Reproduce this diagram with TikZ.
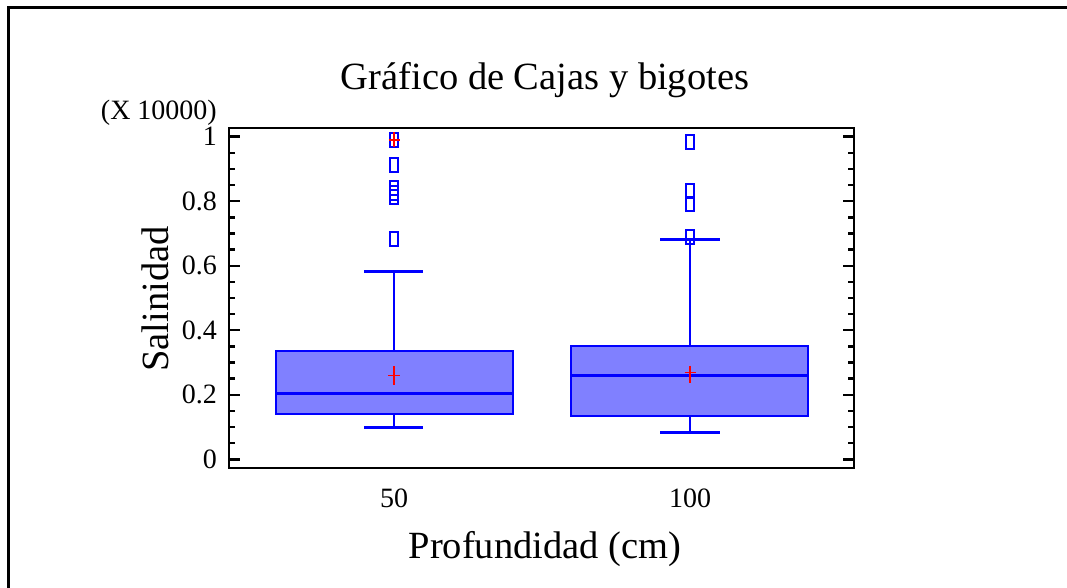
\documentclass[tikz,border=0pt]{standalone}
\usepackage{fontspec}
\setmainfont{Liberation Serif}
\definecolor{bxblue}{RGB}{0,0,255}
\definecolor{bxfill}{RGB}{128,128,255}
\definecolor{mred}{RGB}{255,0,0}
\tikzset{
  frameline/.style={line width=3pt, black},
  axisline/.style={line width=2.8pt, black},
  tickline/.style={line width=2.4pt, black},
  boxbody/.style={draw=bxblue, fill=bxfill, line width=2pt},
  medianline/.style={draw=bxblue, line width=2.6pt},
  whisk/.style={draw=bxblue, line width=1.5pt},
  capline/.style={draw=bxblue, line width=2.8pt},
  outl/.style={draw=bxblue, line width=1.6pt},
  meanmark/.style={draw=mred, line width=1.5pt},
  ticklab/.style={font=\fontsize{28}{30}\selectfont, inner sep=0pt},
  biglab/.style={font=\fontsize{38.5}{40}\selectfont, inner sep=0pt},
}
\begin{document}
\begin{tikzpicture}[x=1pt,y=-1pt]
\useasboundingbox (0,0) rectangle (1067,588);
\fill[white] (0,0) rectangle (1067,588);
% outer frame
\draw[frameline] (8,588) -- (8,7.5) -- (1067,7.5);
% ticks
\foreach \i in {0,...,20}{
  \pgfmathsetmacro{\yy}{459.3-16.13*\i}
  \pgfmathtruncatemacro{\m}{mod(\i,4)}
  \ifnum\m=0 \def\tl{11}\else\def\tl{6}\fi
  \draw[tickline] (229,\yy) -- ++(\tl,0);
  \draw[tickline] (854,\yy) -- ++(-\tl,0);
}
% y tick labels
\foreach \v/\t/\n in {0/0/a,0.2/0.2/b,0.4/0.4/c,0.6/0.6/d,0.8/0.8/e,1/1/f}{
  \node[ticklab, anchor=east] (yl\n) at (217,{459.3-322.6*\v}) {\t};
}
\node[ticklab, anchor=base east] (scale) at (217,119.5) {(X 10000)};
% x tick labels
\node[ticklab] (xl50) at (394,498) {50};
\node[ticklab] (xl100) at (690,498) {100};
% titles
\node[biglab, anchor=base] (title) at (545,90) {Gráfico de Cajas y bigotes};
\node[biglab, anchor=base] (xlab) at (545,558) {Profundidad (cm)};
\node[biglab, anchor=base, rotate=90] (ylab) at (168,299) {Salinidad};
% box 1 (50)
\draw[whisk] (394,350.7) -- (394,271.3);
\draw[capline] (364,271.3) -- (423,271.3);
\draw[whisk] (394,414) -- (394,427.3);
\draw[capline] (364,427.3) -- (423,427.3);
\draw[boxbody] (276,350.7) rectangle (513,414);
\draw[medianline] (276,393.3) -- (513,393.3);
\draw[meanmark] (388,375.3) -- (400,375.3) (394,366) -- (394,384.5);
\foreach \c in {140,165,188,192.7,196.7,239}
  \draw[outl] (389.8,\c-7) rectangle ++(8.4,14);
\draw[meanmark] (388.5,140) -- (399.5,140) (394,132.5) -- (394,147.5);
% box 2 (100)
\draw[whisk] (690,346) -- (690,239.3);
\draw[capline] (660,239.3) -- (720,239.3);
\draw[whisk] (690,416.3) -- (690,432.3);
\draw[capline] (660,432.3) -- (720,432.3);
\draw[boxbody] (571,346) rectangle (808.3,416.3);
\draw[medianline] (571,375.3) -- (808.3,375.3);
\draw[meanmark] (684.5,372.7) -- (695.5,372.7) (690,365.7) -- (690,383.3);
\foreach \c in {141.8,191,203.7,237}
  \draw[outl] (685.8,\c-7) rectangle ++(8.4,14);
% plot frame
\draw[axisline] (229,128) rectangle (854,468);
\end{tikzpicture}
\end{document}
